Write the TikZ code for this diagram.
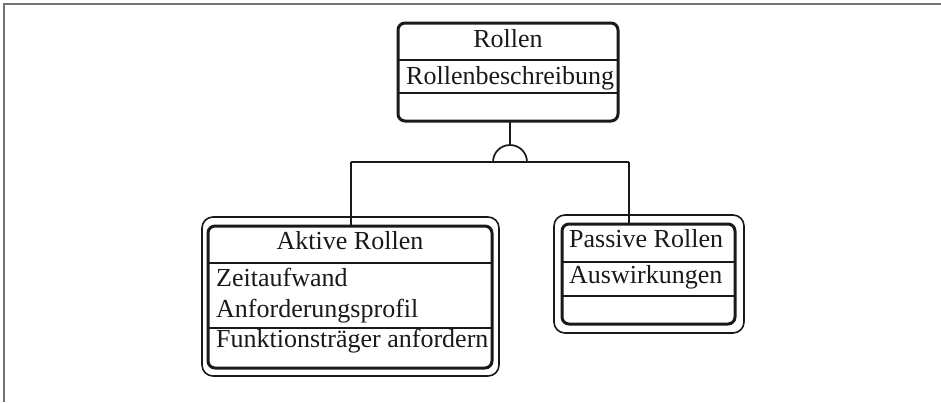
\documentclass[tikz,border=0pt]{standalone}
\usepackage{fontspec}
\setmainfont{Liberation Serif}
\definecolor{ink}{RGB}{25,25,25}
\definecolor{framegray}{RGB}{115,115,115}
\begin{document}
\begin{tikzpicture}[x=1pt,y=-1pt,
  thickbox/.style={draw=ink, line width=3pt, rounded corners=7pt, inner sep=0pt, outer sep=0pt, anchor=north west},
  thinbox/.style={draw=ink, line width=1.6pt, rounded corners=11pt, inner sep=0pt, outer sep=0pt, anchor=north west},
  divider/.style={draw=ink, line width=1.6pt},
  conn/.style={draw=ink, line width=1.7pt},
  lbl/.style={anchor=base west, inner sep=0pt, text=ink, font=\fontsize{26}{30}\selectfont},
  clbl/.style={anchor=base, inner sep=0pt, text=ink, font=\fontsize{26}{30}\selectfont}]
\useasboundingbox (0,0) rectangle (941,402);
% frame (top and left edges)
\draw[framegray, line width=2.6pt] (4,402) -- (4,4) -- (941,4);

% top class: Rollen
\node[thickbox, minimum width=220pt, minimum height=98pt] (rollen) at (398,23) {};
\draw[divider] (rollen.west |- 0,60) -- (rollen.east |- 0,60);
\draw[divider] (rollen.west |- 0,93) -- (rollen.east |- 0,93);
\node[clbl] (rollenT) at (508,47) {Rollen};
\node[lbl] (rollenA) at (406,84) {Rollenbeschreibung};

% generalisation symbol
\coordinate (semic) at (510,162);
\coordinate (semitop) at (510,145);
\coordinate (lcorner) at (351,162);
\coordinate (rcorner) at (629,162);
\draw[conn] (rollen.south -| semitop) -- (semitop);
\draw[conn] ([xshift=-17pt]semic) arc[start angle=180, end angle=360, radius=17];
\draw[conn] (lcorner) -- (rcorner);

% Aktive Rollen
\node[thinbox, minimum width=297pt, minimum height=159pt] (aktivO) at (202,217) {};
\node[thickbox, minimum width=284pt, minimum height=142pt] (aktiv) at (208,226) {};
\draw[divider] (aktiv.west |- 0,263) -- (aktiv.east |- 0,263);
\draw[divider] (aktiv.west |- 0,328) -- (aktiv.east |- 0,328);
\node[clbl] (aktivT) at (350,249) {Aktive Rollen};
\node[lbl] (aktivA1) at (216,286) {Zeitaufwand};
\node[lbl] (aktivA2) at (216,317) {Anforderungsprofil};
\node[lbl] (aktivM) at (216,347) {Funktionsträger anfordern};

% Passive Rollen
\node[thinbox, minimum width=190pt, minimum height=118pt] (passivO) at (554,215) {};
\node[thickbox, minimum width=173pt, minimum height=100pt] (passiv) at (562,224) {};
\draw[divider] (passiv.west |- 0,262) -- (passiv.east |- 0,262);
\draw[divider] (passiv.west |- 0,296) -- (passiv.east |- 0,296);
\node[lbl] (passivT) at (569,247) {Passive Rollen};
\node[lbl] (passivA) at (569,283) {Auswirkungen};

% connectors to subclasses
\draw[conn] (lcorner) -- (lcorner |- aktiv.north);
\draw[conn] (rcorner) -- (rcorner |- passiv.north);
\end{tikzpicture}
\end{document}
